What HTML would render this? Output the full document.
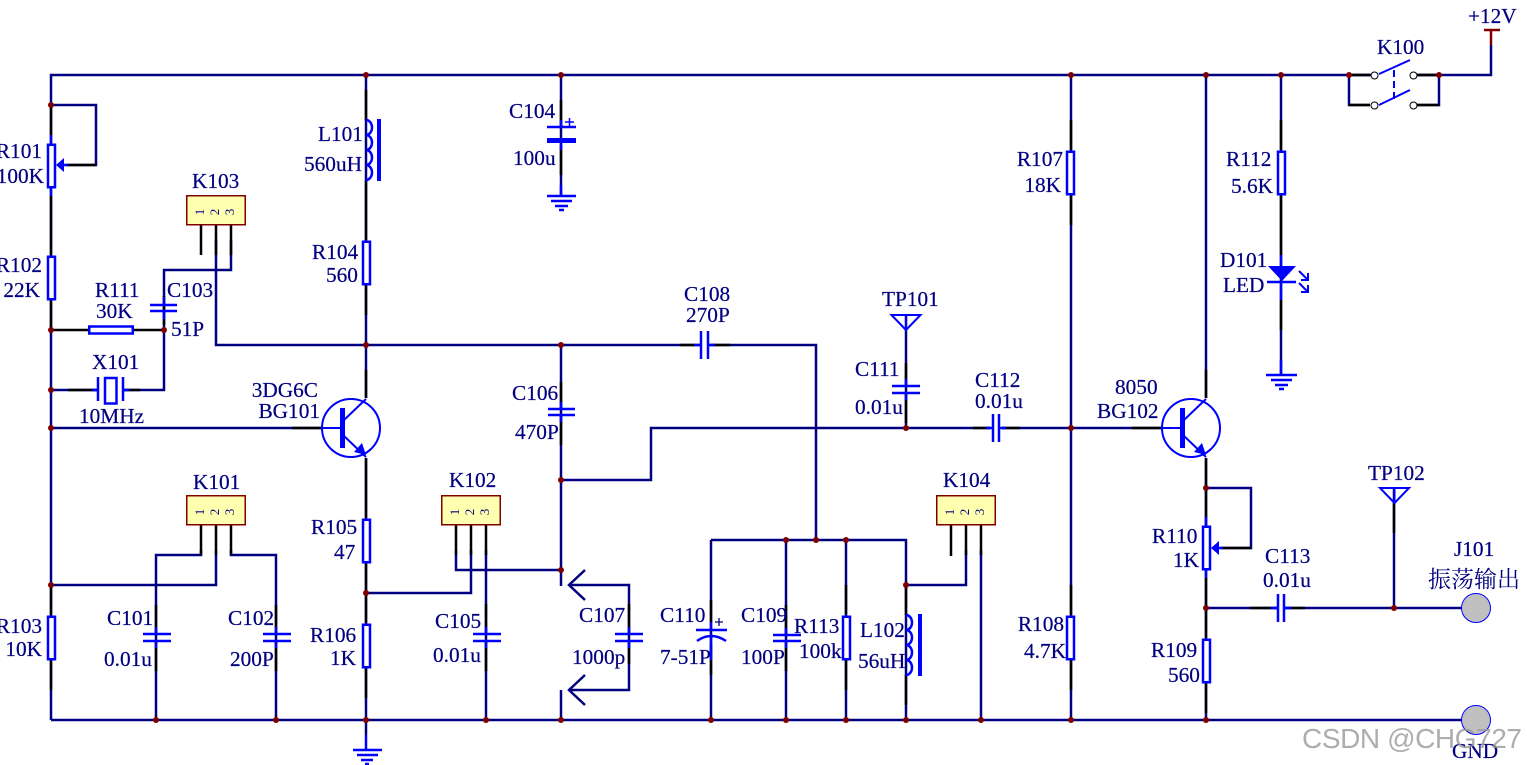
<!DOCTYPE html>
<html><head><meta charset="utf-8"><style>
html,body{margin:0;padding:0;background:#fff;width:1527px;height:765px;overflow:hidden}
svg{display:block}
text{font-family:"Liberation Serif","Noto Serif CJK SC",serif;font-size:21.3px;fill:#000080;stroke:#000080;stroke-width:.2px}
.e{text-anchor:end}
.w{fill:none;stroke:#000080;stroke-width:2.5;stroke-linejoin:miter}
.p{fill:none;stroke:#000;stroke-width:2.5}
.b{fill:none;stroke:#0000ff;stroke-width:2.5}
.t{fill:none;stroke:#0000ff;stroke-width:2}
.r{fill:#fff;stroke:#0000ff;stroke-width:2.5}
.k{fill:#ffffb0;stroke:#800000;stroke-width:1.5}
text.n{font-size:13px;fill:#000080;stroke:none;font-family:"Liberation Serif",serif;text-anchor:middle}
</style></head><body>
<svg width="1527" height="765" viewBox="0 0 1527 765" xmlns="http://www.w3.org/2000/svg">
<!-- wires -->
<path class="w" d="M51 720V75H1491V45M51 105H96V165H66M51 720H1462
M164 330V270H231V240M216 240V345H695M712 345H816V540M51 390H98M123 390H164V330
M51 428H322M366 75V398M366 458V735M366 593H471V550M456 550V570H561M486 550V720
M561 345V586M561 480H651V428H990M1002 428H1162M561 690V720
M569 585H629V690H569M711 540H906V720M711 540V720M786 540V720M846 540V720
M906 585H966V550M981 550V720M1071 75V720M1206 75V398M1206 458V720
M1206 488H1251V548H1221M1206 608H1277M1285 608H1462M1394 488V608
M216 550V585H51M201 550V555H156V720M231 550V555H276V720
M561 75V195M1281 75V375M1349 75V105H1370M1417 105H1439V75M906 315V428"/>
<rect x="1372" y="60" width="44" height="50" fill="#fff"/>
<path class="w" d="M1349 75H1370M1417 75H1439"/>
<!-- black pin segments -->
<path class="p" d="M51 105V135M51 196V255M51 300V330M51 330H88M134 330H164M164 296V325M96 165H68M68 390H98M123 390H140
M216 225V255M201 225V255M231 225V255M366 90V120M366 180V240M366 285V315M322 428H292M366 370V398M366 458V518M366 563V593M366 593V623M366 668V698
M201 525V555M216 525V555M231 525V555M156 605V634M156 641V671M276 605V634M276 641V671M51 585V615M51 660V690
M456 525V555M471 525V555M486 525V555M486 604V634M486 641V671M629 604V634M629 641V664M711 600V622M711 645V675M786 605V635M786 641V671
M846 585V614M846 660V690M906 585V615M906 675V705M951 525V556M966 525V555M981 525V555M1071 120V150M1071 195V225M1071 585V615M1071 660V690
M1206 370V398M1206 458V525M1206 578V638M1206 683V713M1221 548H1251M1162 428H1132M1281 120V150M1281 195V255M1281 300V330M1349 105H1370M1417 105H1439M1394 503V533M1250 608H1277M1285 608H1305M1349 75H1370M1417 75H1439M973 428H990M1002 428H1020M906 363V386M906 393V423M561 382V408M561 415V445M561 100V127M561 145V175M680 345H701M708 345H730"/>
<!-- resistors -->
<g class="r">
<rect x="48" y="144.750" width="7" height="42.500"/><rect x="48" y="256.750" width="7" height="42.500"/><rect x="48" y="616.750" width="7" height="42.500"/>
<rect x="89.250" y="326.500" width="43.500" height="7"/>
<rect x="363" y="241.750" width="7" height="42.500"/><rect x="363" y="519.750" width="7" height="42.500"/><rect x="363" y="624.750" width="7" height="42.500"/>
<rect x="843" y="616.750" width="7" height="42.500"/>
<rect x="1067" y="151.750" width="7" height="42.500"/><rect x="1067" y="616.750" width="7" height="42.500"/>
<rect x="1203" y="526.750" width="7" height="42.500"/><rect x="1203" y="639.750" width="7" height="42.500"/>
<rect x="1278" y="151.750" width="7" height="42.500"/>
</g>
<path class="b" d="M51 135V143M51 188V196M1206 517V525M1206 570V578"/>
<path d="M56 165L64 158V172ZM1211 548L1219 541V555Z" fill="#0000ff"/>
<path class="b" d="M62 165H68M1217 548H1223"/>
<!-- capacitors -->
<path class="b" d="M150 305H177M150 311H177M164 297V305M164 311V319
M143 634H171M143 641H171M263 634H291M263 641H291M473 634H501M473 641H501M615 634H643M615 641H643M773 635H801M773 641H801
M892 386H920M892 393H920M701 331V359M708 331V359M993 414V442M999 414V442M1278 594V622M1284 594V622
M548 409H575M548 415H575M547 127H576"/>
<path class="b" d="M156 627V634M156 641V648M276 627V634M276 641V648M486 627V634M486 641V648M629 627V634M629 641V648M786 628V635M786 641V648M906 379V386M906 393V400M561 402V409M561 415V422M694 345H701M708 345H715M986 428H993M999 428H1006M1271 608H1278M1284 608H1291"/>
<rect x="547" y="138" width="29" height="5" fill="#0000ff"/>
<path d="M565 122H574M569.500 118V126" stroke="#0000ff" stroke-width="1.500" fill="none"/>
<path class="b" d="M561 120V127M561 143V150"/>
<!-- C110 -->
<path class="b" d="M696 630H727M697 641Q711 631 726 641M711 622V630M711 634V660"/>
<path d="M715 622H723M719 618V626" stroke="#000080" stroke-width="1.300" fill="none"/>
<!-- crystal -->
<path class="b" d="M98 377V401M123 377V401M92 390H98M123 390H129"/>
<rect x="105" y="378" width="11.500" height="25.500" class="r"/>
<!-- chevrons -->
<path class="w" d="M585 570L569 585L585 600M585 675L569 690L585 705"/>
<!-- coils -->
<path class="b" d="M366 120a6 7.500 0 0 1 0 15a6 7.500 0 0 1 0 15a6 7.500 0 0 1 0 15a6 7.500 0 0 1 0 15M906 615a6 7.500 0 0 1 0 15a6 7.500 0 0 1 0 15a6 7.500 0 0 1 0 15a6 7.500 0 0 1 0 15"/>
<rect x="377" y="119" width="4" height="62" fill="#0000ff"/><rect x="918" y="614" width="4" height="62" fill="#0000ff"/>
<!-- transistors -->
<g class="t"><circle cx="351" cy="428" r="29"/><circle cx="1191" cy="428" r="29"/>
<path d="M322 428H342M344 420L366 399M344 436L366 457M1162 428H1182M1184 420L1206 399M1184 436L1206 457"/></g>
<rect x="340" y="408" width="5" height="40" fill="#0000ff"/><rect x="1180" y="408" width="5" height="40" fill="#0000ff"/>
<path d="M366 455L354 452L362 443ZM1206 455L1194 452L1202 443Z" fill="#0000ff"/>
<!-- connectors -->
<g class="k"><rect x="186.750" y="195.750" width="58.500" height="29"/><rect x="186.750" y="495.750" width="58.500" height="29"/><rect x="441.750" y="495.750" width="58.500" height="29"/><rect x="936.750" y="495.750" width="58.500" height="29"/></g>
<text class="n" transform="translate(200,212) rotate(-90)" y="4">1</text><text class="n" transform="translate(215,212) rotate(-90)" y="4">2</text><text class="n" transform="translate(230,212) rotate(-90)" y="4">3</text>
<text class="n" transform="translate(200,512) rotate(-90)" y="4">1</text><text class="n" transform="translate(215,512) rotate(-90)" y="4">2</text><text class="n" transform="translate(230,512) rotate(-90)" y="4">3</text>
<text class="n" transform="translate(455,512) rotate(-90)" y="4">1</text><text class="n" transform="translate(470,512) rotate(-90)" y="4">2</text><text class="n" transform="translate(485,512) rotate(-90)" y="4">3</text>
<text class="n" transform="translate(950,512) rotate(-90)" y="4">1</text><text class="n" transform="translate(965,512) rotate(-90)" y="4">2</text><text class="n" transform="translate(980,512) rotate(-90)" y="4">3</text>
<!-- grounds -->
<path class="b" d="M353 750H382M357 755H378M361 760H373M365 764H369M547 196H576M551 201H572M555 206H568M559 210H564M1266 375H1297M1271 380H1292M1275 385H1288M1279 389H1284M366 735V750M561 185V196M1281 360V375"/>
<!-- test points -->
<path class="t" d="M891.500 315H920.500L906 330ZM1380 488H1409L1394.500 503ZM906 315V330M1394.500 488V503"/>
<!-- LED -->
<path d="M1268 266H1296L1282 281Z" fill="#0000ff"/>
<path class="b" d="M1267 282H1296M1281 255V266M1281 282V300"/>
<path class="t" d="M1299 271L1308 280M1308 273V280H1301M1299 283L1308 292M1308 285V292H1301"/>
<!-- switch -->
<g fill="#fff" stroke="#000" stroke-width="1"><circle cx="1374.500" cy="75.500" r="3.500"/><circle cx="1413.500" cy="75.500" r="3.500"/><circle cx="1374.500" cy="105.500" r="3.500"/><circle cx="1413.500" cy="105.500" r="3.500"/></g>
<path class="t" d="M1379 74L1410 60M1379 105L1410 90"/>
<path d="M1394 70V100" stroke="#0000ff" stroke-width="2" stroke-dasharray="7 4" fill="none"/>
<!-- power -->
<path d="M1484 30H1500M1491 30V45" stroke="#800000" stroke-width="2.500" fill="none"/>
<!-- terminals -->
<g fill="#c0c0c0" stroke="#0000ff" stroke-width="1"><circle cx="1476" cy="608" r="14.500"/><circle cx="1476" cy="720" r="14.500"/></g>
<!-- junctions -->
<g fill="#800000">
<circle cx="51" cy="105" r="3"/><circle cx="51" cy="330" r="3"/><circle cx="51" cy="390" r="3"/><circle cx="51" cy="428" r="3"/><circle cx="51" cy="585" r="3"/>
<circle cx="164" cy="330" r="3"/><circle cx="366" cy="75" r="3"/><circle cx="561" cy="75" r="3"/><circle cx="1071" cy="75" r="3"/><circle cx="1206" cy="75" r="3"/><circle cx="1281" cy="75" r="3"/><circle cx="1349" cy="75" r="3"/><circle cx="1439" cy="75" r="3"/>
<circle cx="366" cy="345" r="3"/><circle cx="561" cy="345" r="3"/><circle cx="561" cy="480" r="3"/><circle cx="561" cy="570" r="3"/><circle cx="366" cy="593" r="3"/>
<circle cx="906" cy="428" r="3"/><circle cx="1071" cy="428" r="3"/><circle cx="1206" cy="488" r="3"/><circle cx="1206" cy="608" r="3"/><circle cx="1394" cy="608" r="3"/>
<circle cx="786" cy="540" r="3"/><circle cx="816" cy="540" r="3"/><circle cx="846" cy="540" r="3"/><circle cx="906" cy="585" r="3"/>
<circle cx="156" cy="720" r="3"/><circle cx="276" cy="720" r="3"/><circle cx="366" cy="720" r="3"/><circle cx="486" cy="720" r="3"/><circle cx="561" cy="720" r="3"/><circle cx="711" cy="720" r="3"/><circle cx="786" cy="720" r="3"/><circle cx="846" cy="720" r="3"/><circle cx="906" cy="720" r="3"/><circle cx="981" cy="720" r="3"/><circle cx="1071" cy="720" r="3"/><circle cx="1206" cy="720" r="3"/>
</g>
<!-- labels -->
<text class="e" x="42" y="158">R101</text><text class="e" x="44" y="183">100K</text>
<text class="e" x="42" y="272">R102</text><text class="e" x="40" y="297">22K</text>
<text class="e" x="42" y="633">R103</text><text class="e" x="42" y="656">10K</text>
<text x="95" y="297">R111</text><text x="96" y="318">30K</text>
<text x="167" y="297">C103</text><text x="171" y="336">51P</text>
<text x="92" y="369">X101</text><text x="79" y="423">10MHz</text>
<text x="192" y="188">K103</text><text x="193" y="489">K101</text>
<text class="e" x="318" y="397">3DG6C</text><text class="e" x="320" y="418">BG101</text>
<text x="318" y="141">L101</text><text x="304" y="171">560uH</text>
<text x="312" y="259">R104</text><text x="326" y="282">560</text>
<text x="311" y="534">R105</text><text x="334" y="559">47</text>
<text x="310" y="642">R106</text><text x="330" y="665">1K</text>
<text x="107" y="625">C101</text><text x="104" y="666">0.01u</text>
<text x="228" y="625">C102</text><text x="230" y="666">200P</text>
<text x="449" y="487">K102</text>
<text x="435" y="628">C105</text><text x="433" y="662">0.01u</text>
<text x="509" y="118">C104</text><text x="513" y="165">100u</text>
<text x="512" y="400">C106</text><text x="515" y="439">470P</text>
<text x="579" y="622">C107</text><text x="572" y="664">1000p</text>
<text x="660" y="622">C110</text><text x="660" y="664">7-51P</text>
<text x="741" y="622">C109</text><text x="741" y="664">100P</text>
<text x="794" y="633">R113</text><text x="799" y="658">100k</text>
<text x="860" y="637">L102</text><text x="858" y="668">56uH</text>
<text x="684" y="301">C108</text><text x="686" y="322">270P</text>
<text x="882" y="306">TP101</text>
<text x="855" y="376">C111</text><text x="855" y="414">0.01u</text>
<text x="975" y="387">C112</text><text x="975" y="408">0.01u</text>
<text x="943" y="487">K104</text>
<text class="e" x="1063" y="166">R107</text><text class="e" x="1061" y="192">18K</text>
<text class="e" x="1064" y="631">R108</text><text class="e" x="1066" y="658">4.7K</text>
<text x="1115" y="394">8050</text><text x="1097" y="418">BG102</text>
<text x="1226" y="166">R112</text><text x="1231" y="193">5.6K</text>
<text x="1220" y="267">D101</text><text x="1223" y="292">LED</text>
<text x="1377" y="54">K100</text><text x="1468" y="23">+12V</text>
<text x="1152" y="543">R110</text><text x="1173" y="567">1K</text>
<text x="1151" y="657">R109</text><text x="1168" y="682">560</text>
<text x="1265" y="563">C113</text><text x="1263" y="587">0.01u</text>
<text x="1368" y="480">TP102</text><text x="1454" y="556">J101</text>
<text x="1428" y="587" style="font-size:23px;stroke:none;font-family:'Noto Serif CJK SC','Liberation Serif',serif">振荡输出</text>
<text x="1452" y="758">GND</text>
<text x="1302" y="748" textLength="220" style="font-family:'Liberation Sans',sans-serif;font-size:28px;stroke:none;fill:#999;fill-opacity:.8">CSDN @CHG727</text>
</svg>
</body></html>
